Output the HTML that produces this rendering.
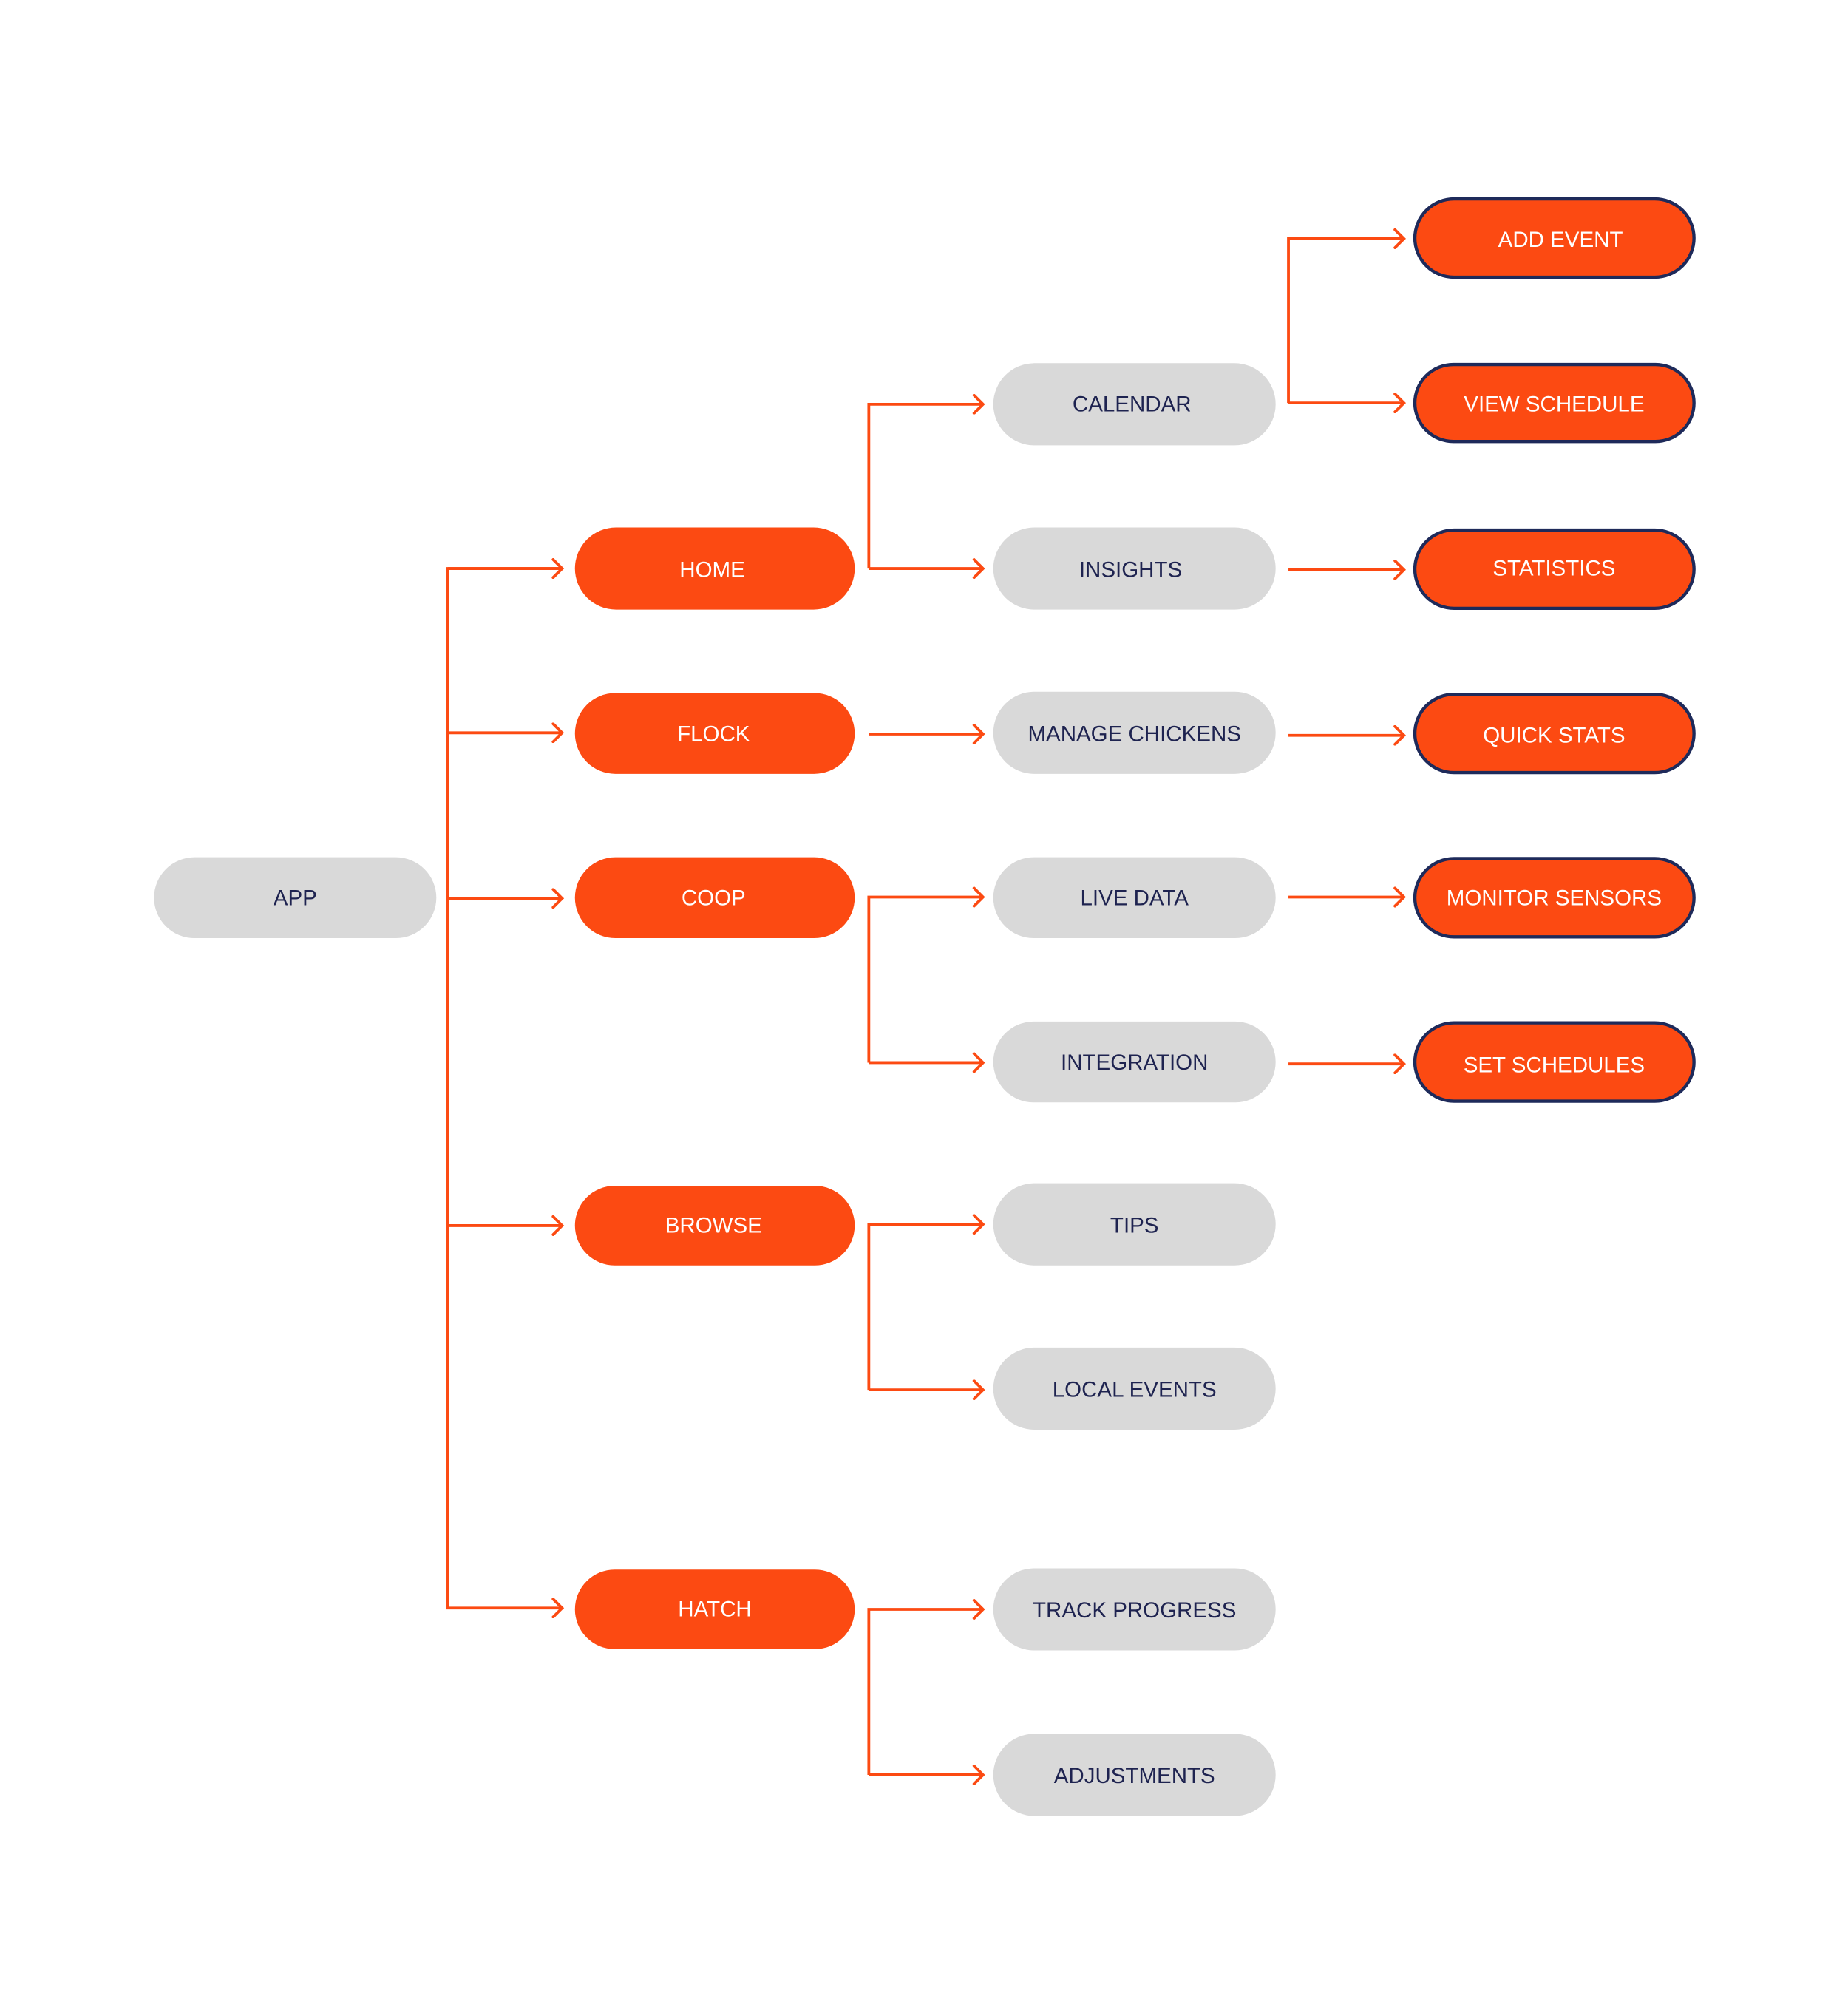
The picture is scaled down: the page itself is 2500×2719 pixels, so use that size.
<!DOCTYPE html>
<html><head><meta charset="utf-8"><style>
html,body{margin:0;padding:0;background:#fff}
svg{display:block}
text{font-family:"Liberation Sans",Arial,sans-serif;font-size:17px;text-anchor:middle;dominant-baseline:central}
</style></head><body>
<svg width="2500" height="2719" viewBox="0 0 1440 1566.2" xmlns="http://www.w3.org/2000/svg">
<defs>
<marker id="a" markerWidth="12" markerHeight="16" refX="10" refY="8" orient="auto" markerUnits="userSpaceOnUse">
<path d="M3 1 L10 8 L3 15" fill="none" stroke="#fc4a12" stroke-width="2.2" stroke-linecap="round"/>
</marker>
</defs>
<g fill="none" stroke="#fc4a12" stroke-width="2.2">
<path d="M438 443 H349 V1253 H438" marker-end="url(#a)"/>
<path d="M349 443 H438" marker-end="url(#a)"/>
<path d="M349 571 H438" marker-end="url(#a)"/>
<path d="M349 700 H438" marker-end="url(#a)"/>
<path d="M349 955 H438" marker-end="url(#a)"/>
<path d="M677 443 V315 H766" marker-end="url(#a)"/>
<path d="M677 443 H766" marker-end="url(#a)"/>
<path d="M677 572 H766" marker-end="url(#a)"/>
<path d="M677 828 V699 H766" marker-end="url(#a)"/>
<path d="M677 828 H766" marker-end="url(#a)"/>
<path d="M677 1083 V954 H766" marker-end="url(#a)"/>
<path d="M677 1083 H766" marker-end="url(#a)"/>
<path d="M677 1383 V1254 H766" marker-end="url(#a)"/>
<path d="M677 1383 H766" marker-end="url(#a)"/>
<path d="M1004 314 V186 H1094" marker-end="url(#a)"/>
<path d="M1004 314 H1094" marker-end="url(#a)"/>
<path d="M1004 444 H1094" marker-end="url(#a)"/>
<path d="M1004 573 H1094" marker-end="url(#a)"/>
<path d="M1004 699 H1094" marker-end="url(#a)"/>
<path d="M1004 829 H1094" marker-end="url(#a)"/>
</g>
<!-- APP -->
<rect x="120" y="668" width="220" height="63" rx="31.5" fill="#d9d9d9"/>
<text x="230" y="700" fill="#1e2350">APP</text>
<!-- col 2 -->
<g fill="#fc4a12">
<rect x="448" y="411" width="218" height="64" rx="32"/>
<rect x="448" y="540" width="218" height="63" rx="31.5"/>
<rect x="448" y="668" width="218" height="63" rx="31.5"/>
<rect x="448" y="924" width="218" height="62" rx="31"/>
<rect x="448" y="1223" width="218" height="62" rx="31"/>
</g>
<g fill="#fff">
<text x="555" y="444">HOME</text>
<text x="556" y="572">FLOCK</text>
<text x="556" y="700">COOP</text>
<text x="556" y="955">BROWSE</text>
<text x="557" y="1254">HATCH</text>
</g>
<!-- col 3 -->
<g fill="#d9d9d9">
<rect x="774" y="283" width="220" height="64" rx="32"/>
<rect x="774" y="411" width="220" height="64" rx="32"/>
<rect x="774" y="539" width="220" height="64" rx="32"/>
<rect x="774" y="668" width="220" height="63" rx="31.5"/>
<rect x="774" y="796" width="220" height="63" rx="31.5"/>
<rect x="774" y="922" width="220" height="64" rx="32"/>
<rect x="774" y="1050" width="220" height="64" rx="32"/>
<rect x="774" y="1222" width="220" height="64" rx="32"/>
<rect x="774" y="1351" width="220" height="64" rx="32"/>
</g>
<g fill="#1e2350">
<text x="882" y="315">CALENDAR</text>
<text x="881" y="444">INSIGHTS</text>
<text x="884" y="572">MANAGE CHICKENS</text>
<text x="884" y="700">LIVE DATA</text>
<text x="884" y="828">INTEGRATION</text>
<text x="884" y="955">TIPS</text>
<text x="884" y="1083">LOCAL EVENTS</text>
<text x="884" y="1255">TRACK PROGRESS</text>
<text x="884" y="1384">ADJUSTMENTS</text>
</g>
<!-- col 4 -->
<g fill="#fc4a12" stroke="#1e2a5a" stroke-width="2.5">
<rect x="1102.5" y="155" width="217.5" height="61" rx="30.5"/>
<rect x="1102.5" y="284" width="217.5" height="60" rx="30"/>
<rect x="1102.5" y="413" width="217.5" height="61" rx="30.5"/>
<rect x="1102.5" y="541" width="217.5" height="61" rx="30.5"/>
<rect x="1102.5" y="669" width="217.5" height="61" rx="30.5"/>
<rect x="1102.5" y="797" width="217.5" height="61" rx="30.5"/>
</g>
<g fill="#fff">
<text x="1216" y="187">ADD EVENT</text>
<text x="1211" y="315">VIEW SCHEDULE</text>
<text x="1211" y="443">STATISTICS</text>
<text x="1211" y="573">QUICK STATS</text>
<text x="1211" y="700">MONITOR SENSORS</text>
<text x="1211" y="830">SET SCHEDULES</text>
</g>
</svg>
</body></html>
